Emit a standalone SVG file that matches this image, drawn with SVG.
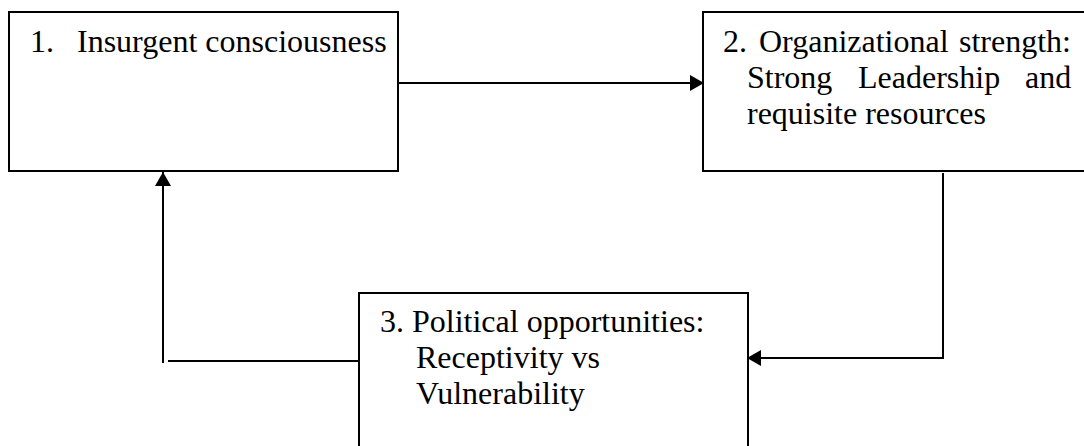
<svg xmlns="http://www.w3.org/2000/svg" width="1084" height="446" viewBox="0 0 1084 446">
<style>
.box{fill:#fff;stroke:#000;stroke-width:2}
.t{font-family:"Liberation Serif","Times New Roman",serif;font-size:32px;fill:#000}
.c{fill:none;stroke:#000;stroke-width:2}
</style>
<defs>
<marker id="ah" viewBox="0 0 14 16" refX="14" refY="8" markerWidth="14" markerHeight="16" markerUnits="userSpaceOnUse" orient="auto">
<path d="M0,0 L14,8 L0,16 Z" fill="#000"/>
</marker>
</defs>
<g id="node1">
<rect class="box" x="9" y="12" width="389" height="159"/>
<text class="t" y="52"><tspan x="30">1.</tspan><tspan x="77">Insurgent consciousness</tspan></text>
</g>
<g id="node2">
<rect class="box" x="703" y="12" width="400" height="159"/>
<text class="t" y="52"><tspan x="723">2.</tspan><tspan x="759">Organizational</tspan><tspan x="959">strength:</tspan></text>
<text class="t" y="88"><tspan x="747">Strong</tspan><tspan x="858">Leadership</tspan><tspan x="1025">and</tspan></text>
<text class="t" x="747" y="124">requisite resources</text>
</g>
<g id="node3">
<rect class="box" x="359" y="293" width="389" height="170"/>
<text class="t" x="380" y="332">3. Political opportunities:</text>
<text class="t" x="416" y="368">Receptivity vs</text>
<text class="t" x="416" y="404">Vulnerability</text>
</g>
<g id="connectors">
<path class="c" d="M398,83 H704" marker-end="url(#ah)"/>
<path class="c" d="M943,173 V358 H747" marker-end="url(#ah)"/>
<path class="c" d="M359,361 H168"/>
<path class="c" d="M163,363 V172" marker-end="url(#ah)"/>
</g>
</svg>
